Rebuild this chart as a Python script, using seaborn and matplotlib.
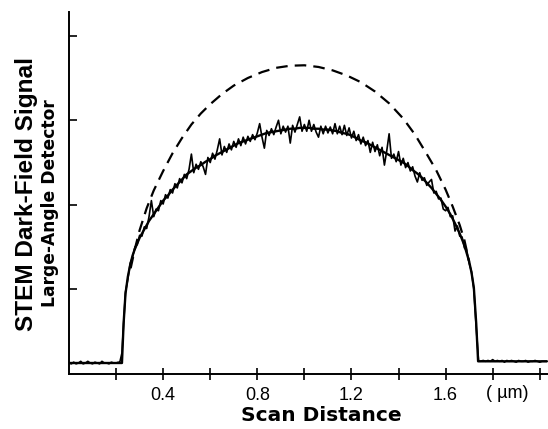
import matplotlib
matplotlib.use("Agg")
import matplotlib.pyplot as plt
import seaborn as sns
import pandas as pd

# ---- data (x in µm, y in arbitrary signal units) ----
base_left_x = [0.00, 0.01, 0.02, 0.03, 0.04, 0.05, 0.06, 0.07, 0.08, 0.09, 0.10,
               0.11, 0.12, 0.13, 0.14, 0.15, 0.16, 0.17, 0.18, 0.19, 0.20, 0.21, 0.215]
base_left_y = [0.13, 0.12, 0.14, 0.12, 0.13, 0.15, 0.12, 0.13, 0.15, 0.13, 0.12,
               0.14, 0.13, 0.12, 0.15, 0.13, 0.13, 0.12, 0.14, 0.13, 0.13, 0.14, 0.13]

noisy_x = [0.225, 0.23, 0.24, 0.25, 0.26, 0.27, 0.28, 0.29, 0.30, 0.31, 0.32, 0.33, 0.34,
           0.35, 0.36, 0.37, 0.38, 0.39, 0.40, 0.41, 0.42, 0.43, 0.44, 0.45, 0.46,
           0.47, 0.48, 0.49, 0.50, 0.51, 0.52, 0.53, 0.54, 0.55, 0.56, 0.57, 0.58,
           0.59, 0.60, 0.61, 0.62, 0.63, 0.64, 0.65, 0.66, 0.67, 0.68, 0.69, 0.70,
           0.71, 0.72, 0.73, 0.74, 0.75, 0.76, 0.77, 0.78, 0.79, 0.80, 0.81, 0.82,
           0.83, 0.84, 0.85, 0.86, 0.87, 0.88, 0.89, 0.90, 0.91, 0.92, 0.93, 0.94,
           0.95, 0.96, 0.97, 0.98, 0.99, 1.00, 1.01, 1.02, 1.03, 1.04, 1.05, 1.06,
           1.07, 1.08, 1.09, 1.10, 1.11, 1.12, 1.13, 1.14, 1.15, 1.16, 1.17, 1.18,
           1.19, 1.20, 1.21, 1.22, 1.23, 1.24, 1.25, 1.26, 1.27, 1.28, 1.29, 1.30,
           1.31, 1.32, 1.33, 1.34, 1.35, 1.36, 1.37, 1.38, 1.39, 1.40, 1.41, 1.42,
           1.43, 1.44, 1.45, 1.46, 1.47, 1.48, 1.49, 1.50, 1.51, 1.52, 1.53, 1.54,
           1.55, 1.56, 1.57, 1.58, 1.59, 1.60, 1.61, 1.62, 1.63, 1.64, 1.65, 1.66,
           1.67, 1.68, 1.69, 1.70, 1.71, 1.72, 1.73, 1.74]
noisy_y = [0.25, 0.50, 0.97, 1.12, 1.31, 1.38, 1.50, 1.53, 1.64, 1.63, 1.74, 1.72, 1.86,
           2.05, 1.86, 1.95, 1.93, 2.05, 2.01, 2.12, 2.08, 2.18, 2.14, 2.25, 2.20,
           2.31, 2.26, 2.36, 2.31, 2.42, 2.60, 2.38, 2.48, 2.42, 2.51, 2.45, 2.36,
           2.56, 2.50, 2.61, 2.54, 2.65, 2.78, 2.59, 2.69, 2.62, 2.72, 2.65, 2.75,
           2.68, 2.78, 2.70, 2.80, 2.72, 2.81, 2.75, 2.83, 2.77, 2.85, 2.96, 2.80,
           2.67, 2.88, 2.82, 2.90, 2.83, 2.92, 3.00, 2.84, 2.93, 2.86, 2.93, 2.73,
           2.94, 2.86, 2.95, 3.04, 2.87, 2.95, 2.87, 3.00, 2.87, 2.95, 2.86, 2.80,
           2.93, 2.84, 2.93, 2.85, 2.92, 2.84, 2.96, 2.84, 2.93, 2.83, 2.94, 2.82,
           2.91, 2.79, 2.87, 2.76, 2.83, 2.72, 2.80, 2.70, 2.76, 2.62, 2.74, 2.63,
           2.71, 2.58, 2.68, 2.47, 2.64, 2.84, 2.55, 2.60, 2.51, 2.63, 2.47, 2.55,
           2.44, 2.50, 2.40, 2.45, 2.34, 2.27, 2.38, 2.29, 2.32, 2.23, 2.27, 2.30,
           2.14, 2.16, 2.07, 2.08, 1.95, 1.93, 1.97, 1.86, 1.87, 1.69, 1.75, 1.63,
           1.62, 1.49, 1.46, 1.31, 1.21, 1.00, 0.55, 0.16]

base_right_x = [1.745, 1.76, 1.77, 1.78, 1.79, 1.80, 1.81, 1.82, 1.83, 1.84, 1.85, 1.86,
                1.87, 1.88, 1.89, 1.90, 1.91, 1.92, 1.93, 1.94, 1.95, 1.96, 1.97,
                1.98, 1.99, 2.00, 2.01, 2.02, 2.03]
base_right_y = [0.15, 0.16, 0.15, 0.16, 0.15, 0.17, 0.15, 0.16, 0.15, 0.16, 0.14, 0.16,
                0.15, 0.16, 0.15, 0.14, 0.16, 0.15, 0.15, 0.16, 0.14, 0.15, 0.15,
                0.16, 0.15, 0.14, 0.15, 0.15, 0.15]

smooth_x = [0.00, 0.225, 0.232, 0.24, 0.25, 0.26, 0.27, 0.28, 0.30, 0.32, 0.34, 0.36,
            0.38, 0.40, 0.42, 0.44, 0.46, 0.48, 0.50, 0.52, 0.54, 0.56, 0.58, 0.60,
            0.62, 0.64, 0.66, 0.68, 0.70, 0.72, 0.74, 0.76, 0.78, 0.80, 0.82, 0.84,
            0.86, 0.88, 0.90, 0.92, 0.94, 0.96, 0.98, 1.00, 1.02, 1.04, 1.06, 1.08,
            1.10, 1.12, 1.14, 1.16, 1.18, 1.20, 1.22, 1.24, 1.26, 1.28, 1.30, 1.32,
            1.34, 1.36, 1.38, 1.40, 1.42, 1.44, 1.46, 1.48, 1.50, 1.52, 1.54, 1.56,
            1.58, 1.60, 1.62, 1.64, 1.66, 1.68, 1.70, 1.71, 1.72, 1.73, 1.738, 2.03]
smooth_y = [0.13, 0.13, 0.60, 0.95, 1.15, 1.29, 1.40, 1.48, 1.61, 1.71, 1.81, 1.89,
            1.97, 2.05, 2.11, 2.18, 2.24, 2.30, 2.36, 2.40, 2.44, 2.47, 2.51, 2.54,
            2.58, 2.61, 2.64, 2.67, 2.70, 2.73, 2.75, 2.77, 2.79, 2.81, 2.83, 2.85,
            2.86, 2.87, 2.88, 2.89, 2.90, 2.90, 2.91, 2.91, 2.91, 2.90, 2.90, 2.89,
            2.89, 2.88, 2.87, 2.85, 2.84, 2.82, 2.79, 2.76, 2.74, 2.71, 2.68, 2.65,
            2.62, 2.59, 2.56, 2.53, 2.50, 2.46, 2.41, 2.37, 2.32, 2.26, 2.20, 2.13,
            2.06, 1.98, 1.89, 1.78, 1.66, 1.52, 1.33, 1.20, 1.02, 0.60, 0.15, 0.15]

dashed_x = [0.262, 0.28, 0.30, 0.33, 0.36, 0.40, 0.44, 0.48, 0.52, 0.56, 0.60,
            0.65, 0.70, 0.76, 0.82, 0.88, 0.94, 1.00, 1.06, 1.12, 1.18, 1.24,
            1.30, 1.36, 1.42, 1.47, 1.52, 1.56, 1.60, 1.63, 1.66, 1.68, 1.70]
dashed_y = [1.25, 1.48, 1.70, 1.96, 2.17, 2.40, 2.61, 2.79, 2.95, 3.08, 3.19,
            3.31, 3.41, 3.50, 3.57, 3.62, 3.645, 3.65, 3.63, 3.59, 3.53, 3.45,
            3.34, 3.20, 3.02, 2.83, 2.60, 2.41, 2.18, 1.98, 1.76, 1.58, 1.33]

x_ticks = [0.2, 0.4, 0.6, 0.8, 1.0, 1.2, 1.4, 1.6, 1.8, 2.0]
x_tick_labels = ["", "0.4", "", "0.8", "", "1.2", "", "1.6", "", ""]
unit_label = "( \u00b5m)"
y_ticks = [1, 2, 3, 4]

# ---- drawing ----
sns.set_style("ticks")
plt.rcParams["font.family"] = ["Liberation Sans", "DejaVu Sans"]
plt.rcParams["text.color"] = "black"
plt.rcParams["xtick.color"] = "black"
plt.rcParams["ytick.color"] = "black"
plt.rcParams["axes.edgecolor"] = "black"

W, H = 548, 429
fig = plt.figure(figsize=(W / 100, H / 100), dpi=100)
ax = fig.add_axes([69 / W, (H - 374) / H, (W - 69) / W, (374 - 12) / H])

noisy = pd.DataFrame({"x": base_left_x + noisy_x + base_right_x,
                      "y": base_left_y + noisy_y + base_right_y})
smooth = pd.DataFrame({"x": smooth_x, "y": smooth_y})
dashed = pd.DataFrame({"x": dashed_x, "y": dashed_y})

sns.lineplot(data=noisy, x="x", y="y", ax=ax, color="black", lw=1.2,
             estimator=None, sort=False)
sns.lineplot(data=smooth, x="x", y="y", ax=ax, color="black", lw=1.7,
             estimator=None, sort=False)
sns.lineplot(data=dashed, x="x", y="y", ax=ax, color="black", lw=1.6,
             estimator=None, sort=False, linestyle=(0, (5.2, 3.2)))

ax.set_xlim(0, 2.035)
ax.set_ylim(0, 4.28)
sns.despine(ax=ax, top=True, right=True)
for s in ("left", "bottom"):
    ax.spines[s].set_linewidth(1.4)

ax.set_xticks(x_ticks)
ax.set_xticklabels(x_tick_labels, fontsize=13)
ax.set_yticks(y_ticks)
ax.set_yticklabels([])
ax.tick_params(axis="x", direction="inout", length=8, width=1.2, pad=5)
ax.tick_params(axis="y", direction="in", length=6, width=1.2)
ax.set_xlabel("")
ax.set_ylabel("")

# unit label next to the 1.8 tick
xt = ax.get_xaxis_transform()
ax.text(1.770, -0.031, unit_label, transform=xt, ha="left", va="top", fontsize=13)

fig.text(321.7 / W, (H - 421) / H, "Scan Distance", ha="center", va="baseline",
         fontsize=14.5, fontweight="bold", family="DejaVu Sans")
fig.text(33 / W, (H - 194) / H, "STEM Dark-Field Signal", ha="center", va="baseline",
         rotation=90, rotation_mode="anchor", fontsize=17.6, fontweight="bold")
fig.text(55 / W, (H - 203.5) / H, "Large-Angle Detector", ha="center", va="baseline",
         rotation=90, rotation_mode="anchor", fontsize=12.3, fontweight="bold",
         family="DejaVu Sans")

fig.savefig("out.png", dpi=100)
